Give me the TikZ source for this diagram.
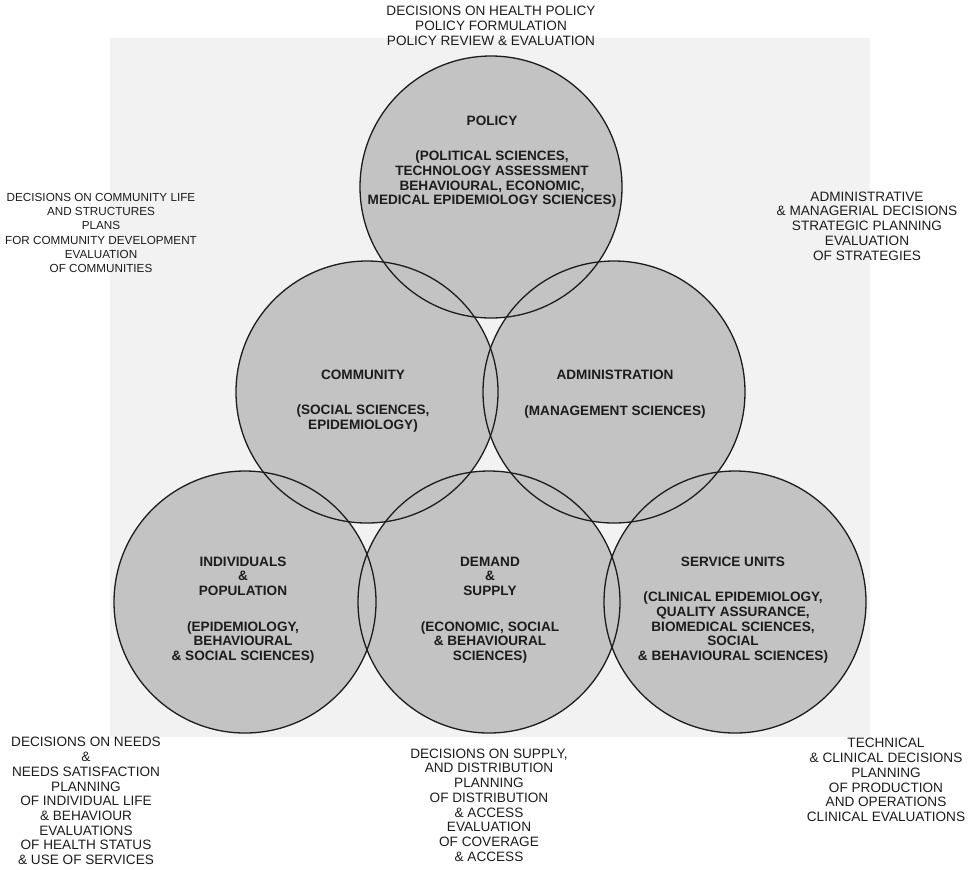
\documentclass[tikz,border=0pt]{standalone}
\usepackage{fontspec}
\setmainfont{Liberation Sans}
\usetikzlibrary{positioning,backgrounds}
\definecolor{discgray}{HTML}{C3C3C3}
\definecolor{scangray}{HTML}{F2F2F2}
\definecolor{inkblack}{HTML}{1C1C1C}

\begin{document}
\begin{tikzpicture}[x=0.5pt,y=-0.5pt, every node/.style={font=\fontsize{6.8}{7.35}\selectfont,text=inkblack}]
    \tikzstyle{field}=[circle,draw=inkblack,line width=0.65pt,minimum size=131pt,inner sep=0pt]
    \tikzstyle{science}=[align=center,inner sep=0pt,font=\bfseries\fontsize{6.8}{7.35}\selectfont]
    \tikzstyle{decision}=[align=center,inner sep=0pt]
    \useasboundingbox (0,0) rectangle (973,869);
    % the six fields
    \node[field] (policy) at (491,187) {};
    \node[field] (community) at (367,392) {};
    \node[field] (administration) at (614,392) {};
    \node[field] (individuals) at (245,602) {};
    \node[field] (demand) at (489,602) {};
    \node[field] (service) at (735,602) {};
    \begin{scope}[on background layer]
        \fill[scangray] (110,38) rectangle (870,737);
        \foreach \f in {policy,community,administration,individuals,demand,service}
            \fill[discgray] (\f.center) circle[radius=65.5pt];
    \end{scope}
    % sciences inside the fields
    \node[science] (policytext) at (492,162) {POLICY\\[10pt](POLITICAL SCIENCES,\\TECHNOLOGY ASSESSMENT\\BEHAVIOURAL, ECONOMIC,\\MEDICAL EPIDEMIOLOGY SCIENCES)};
    \node[science] (communitytext) at (363,401) {COMMUNITY\\[10.5pt](SOCIAL SCIENCES,\\EPIDEMIOLOGY)};
    \node[science] (administrationtext) at (615,394) {ADMINISTRATION\\[10.5pt](MANAGEMENT SCIENCES)};
    \node[science] (individualstext) at (243,610) {INDIVIDUALS\\\&\\POPULATION\\[10.5pt](EPIDEMIOLOGY,\\BEHAVIOURAL\\\& SOCIAL SCIENCES)};
    \node[science] (demandtext) at (490,610) {DEMAND\\\&\\SUPPLY\\[10.5pt](ECONOMIC, SOCIAL\\\& BEHAVIOURAL\\SCIENCES)};
    \node[science] (servicetext) at (733,610) {SERVICE UNITS\\[10.5pt](CLINICAL EPIDEMIOLOGY,\\QUALITY ASSURANCE,\\BIOMEDICAL SCIENCES,\\SOCIAL\\\& BEHAVIOURAL SCIENCES)};
    % decisions outside
    \node[decision] (policynote) at (491,26) {DECISIONS ON HEALTH POLICY\\POLICY FORMULATION\\POLICY REVIEW \& EVALUATION};
    \node[decision,font=\fontsize{5.85}{7.1}\selectfont] (communitynote) at (101,233) {DECISIONS ON COMMUNITY LIFE\\AND STRUCTURES\\PLANS\\FOR COMMUNITY DEVELOPMENT\\EVALUATION\\OF COMMUNITIES};
    \node[decision] (administrationnote) at (867,226) {ADMINISTRATIVE\\\& MANAGERIAL DECISIONS\\STRATEGIC PLANNING\\EVALUATION\\OF STRATEGIES};
    \node[decision] (individualsnote) at (86,801) {DECISIONS ON NEEDS\\\&\\NEEDS SATISFACTION\\PLANNING\\OF INDIVIDUAL LIFE\\\& BEHAVIOUR\\EVALUATIONS\\OF HEALTH STATUS\\\& USE OF SERVICES};
    \node[decision] (demandnote) at (489,805) {DECISIONS ON SUPPLY,\\AND DISTRIBUTION\\PLANNING\\OF DISTRIBUTION\\\& ACCESS\\EVALUATION\\OF COVERAGE\\\& ACCESS};
    \node[decision] (servicenote) at (886,780) {TECHNICAL\\\& CLINICAL DECISIONS\\PLANNING\\OF PRODUCTION\\AND OPERATIONS\\CLINICAL EVALUATIONS};
\end{tikzpicture}
\end{document}
